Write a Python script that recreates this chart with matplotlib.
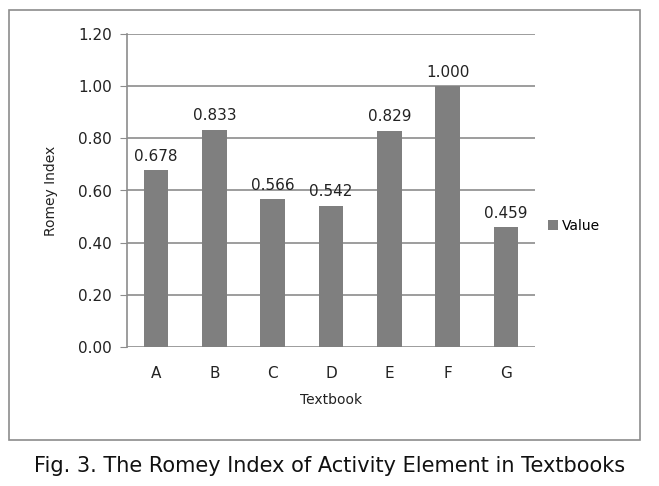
import matplotlib
matplotlib.use("Agg")
import matplotlib.pyplot as plt
from matplotlib.patches import Rectangle

categories = ["A", "B", "C", "D", "E", "F", "G"]
values = [0.678, 0.833, 0.566, 0.542, 0.829, 1.000, 0.459]
yticks = [0.0, 0.2, 0.4, 0.6, 0.8, 1.0, 1.2]

W, H = 659, 486
fig = plt.figure(figsize=(W / 100, H / 100), dpi=100)
plt.rcParams["font.family"] = ["DejaVu Sans"]

# outer chart border
fig.patches.append(Rectangle((9 / W, 1 - 440 / H), 631 / W, 430 / H,
                             transform=fig.transFigure, fill=False,
                             edgecolor="#8c8c8c", lw=1.2))

ax = fig.add_axes([127 / W, 1 - 347 / H, 408 / W, 313 / H])
x = range(len(categories))
ax.bar(x, values, width=0.42, color="#7f7f7f", zorder=3, label="Value")
for xi, v in zip(x, values):
    ax.text(xi, v + 0.025, f"{v:.3f}", ha="center", va="bottom", fontsize=11, color="#222222")

ax.set_xlim(-0.5, len(categories) - 0.5)
ax.set_ylim(0, 1.2)
ax.set_yticks(yticks)
ax.set_yticklabels([f"{t:.2f}" for t in yticks], fontsize=11, color="#222222")
ax.set_xticks(list(x))
ax.set_xticklabels(categories, fontsize=11, color="#222222")
ax.grid(axis="y", color="#8c8c8c", lw=1.2, zorder=0)
for s in ["top", "right", "bottom"]:
    ax.spines[s].set_visible(False)
ax.spines["left"].set_color("#8c8c8c")
ax.spines["left"].set_linewidth(1.2)
ax.tick_params(axis="y", length=5, color="#8c8c8c", pad=6)
ax.tick_params(axis="x", length=0, pad=14)
ax.set_ylabel("Romey Index", fontsize=10, labelpad=14, color="#222222")
ax.set_xlabel("Textbook", fontsize=10, labelpad=8, color="#222222")

fig.legend(loc="center left", bbox_to_anchor=(548 / W, 1 - 226 / H),
           frameon=False, fontsize=10, handlelength=0.7, handleheight=0.7,
           handletextpad=0.3, borderaxespad=0, borderpad=0)

fig.text(0.5, 1 - 466 / H, "Fig. 3. The Romey Index of Activity Element in Textbooks",
         ha="center", va="center", fontsize=15, color="#111111")

fig.savefig("out.png", dpi=100)
